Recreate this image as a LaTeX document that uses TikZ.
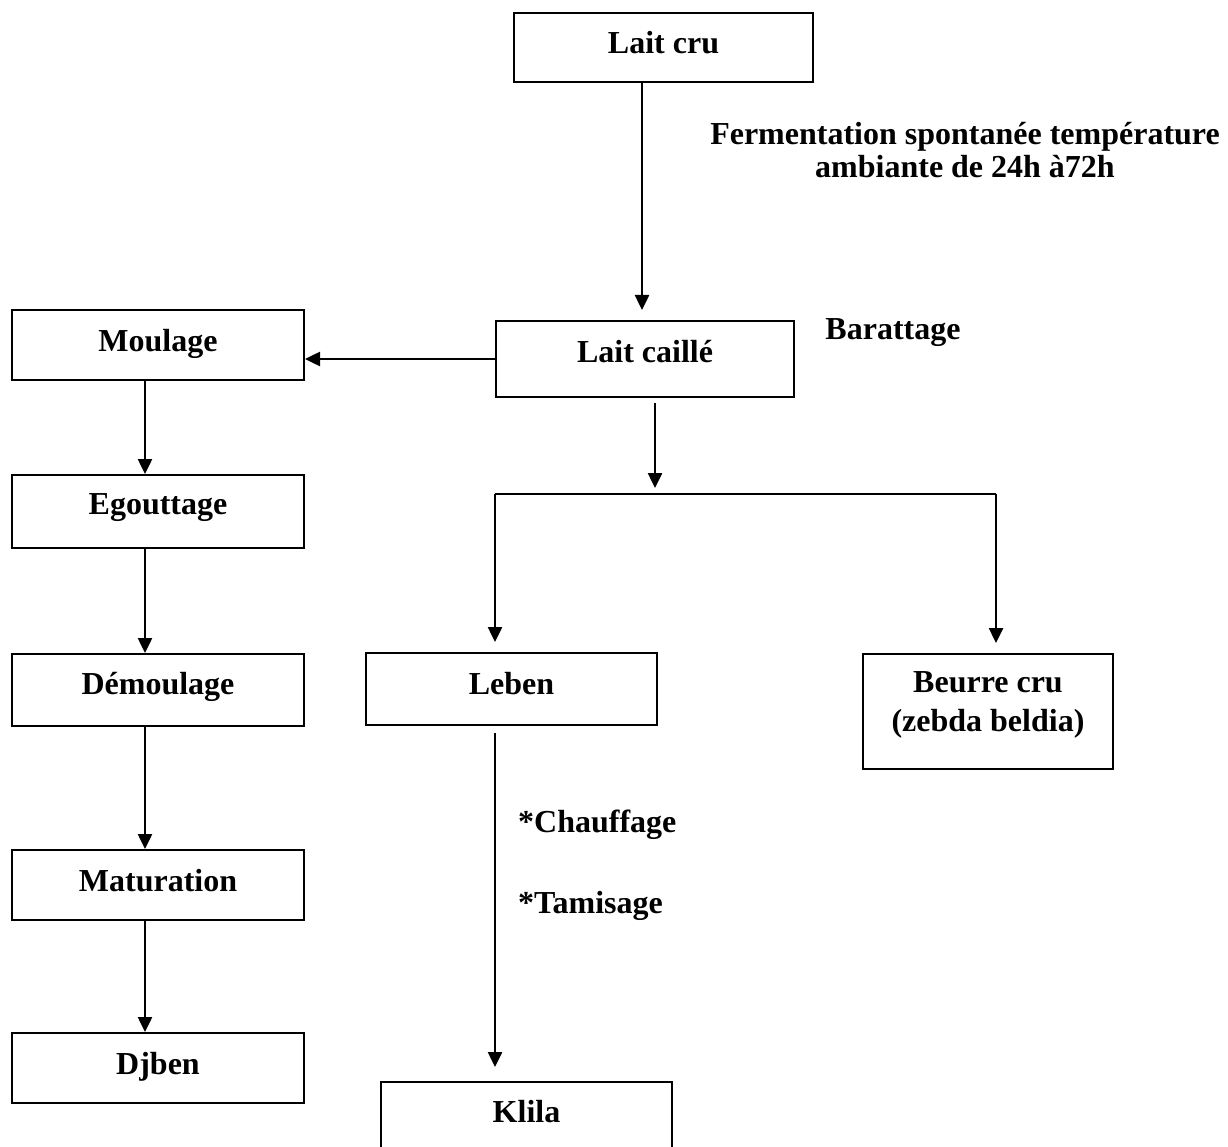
\documentclass[tikz,border=0pt]{standalone}
\usepackage{fontspec}
\setmainfont{Liberation Serif}
\usetikzlibrary{arrows.meta}
\begin{document}
\begin{tikzpicture}[x=1pt,y=-1pt,
  every node/.style={font=\fontsize{32}{33}\selectfont\bfseries},
  box/.style={draw, line width=2pt, inner sep=0pt, anchor=north},
  lbl/.style={inner sep=0pt},
  conn/.style={line width=2.5pt},
  arr/.style={line width=2.5pt, -{Triangle[length=15pt,width=14pt]}}]
\useasboundingbox (0,0) rectangle (1228,1147);
\clip (0,0) rectangle (1228,1147);
% boxes
\node[box, minimum width=299pt, text height=41pt, text depth=28pt] (laitcru) at (663.5,12) {Lait cru};
\node[box, minimum width=298pt, text height=41pt, text depth=35pt] (caille) at (645,320) {Lait caillé};
\node[box, minimum width=292pt, text height=42pt, text depth=28pt] (moulage) at (158,309) {Moulage};
\node[box, minimum width=292pt, text height=39pt, text depth=34pt] (egout) at (158,474) {Egouttage};
\node[box, minimum width=292pt, text height=40pt, text depth=32pt] (demoul) at (158,653) {Démoulage};
\node[box, minimum width=292pt, text height=41pt, text depth=29pt] (matur) at (158,849) {Maturation};
\node[box, minimum width=292pt, text height=41pt, text depth=29pt] (djben) at (158,1032) {Djben};
\node[box, minimum width=291pt, text height=41pt, text depth=31pt] (leben) at (511.5,652) {Leben};
\node[box, minimum width=250pt, minimum height=115pt] (beurre) at (988,653) {};
\node[lbl, align=center, font=\fontsize{32}{39}\selectfont\bfseries] (beurretxt) at (988,705) {Beurre cru\\(zebda beldia)};
\node[box, minimum width=291pt, text height=40pt, text depth=60pt] (klila) at (526.5,1081) {Klila};
% labels
\node[lbl, align=center] (ferm) at (965,150) {Fermentation spontanée température\\ambiante de 24h à72h};
\node[lbl] (baratt) at (893,333) {Barattage};
\node[lbl, anchor=west] (chauf) at (518,825) {*Chauffage};
\node[lbl, anchor=west] (tamis) at (518,906) {*Tamisage};
% helper coordinates
\coordinate (split) at (655,494);
\coordinate (bl) at (495,494);
\coordinate (br) at (996,494);
\coordinate (lx) at (145,0);
\coordinate (tx) at (642,0);
% connectors
\draw[arr, shorten >=10pt] (laitcru.south -| tx) -- (caille.north -| tx);
\draw[arr] (caille.west) -- (moulage.east |- caille.west);
\draw[arr, shorten >=6pt] ([yshift=-5pt]caille.south -| split) -- (split);
\draw[conn] (bl) -- (br);
\draw[arr, shorten >=10pt] (bl) -- (leben.north -| bl);
\draw[arr, shorten >=10pt] (br) -- (beurre.north -| br);
\draw[arr, shorten >=14pt] ([yshift=-7pt]leben.south -| bl) -- (klila.north -| bl);
\draw[arr] (moulage.south -| lx) -- (egout.north -| lx);
\draw[arr] (egout.south -| lx) -- (demoul.north -| lx);
\draw[arr] (demoul.south -| lx) -- (matur.north -| lx);
\draw[arr] (matur.south -| lx) -- (djben.north -| lx);
\end{tikzpicture}
\end{document}
